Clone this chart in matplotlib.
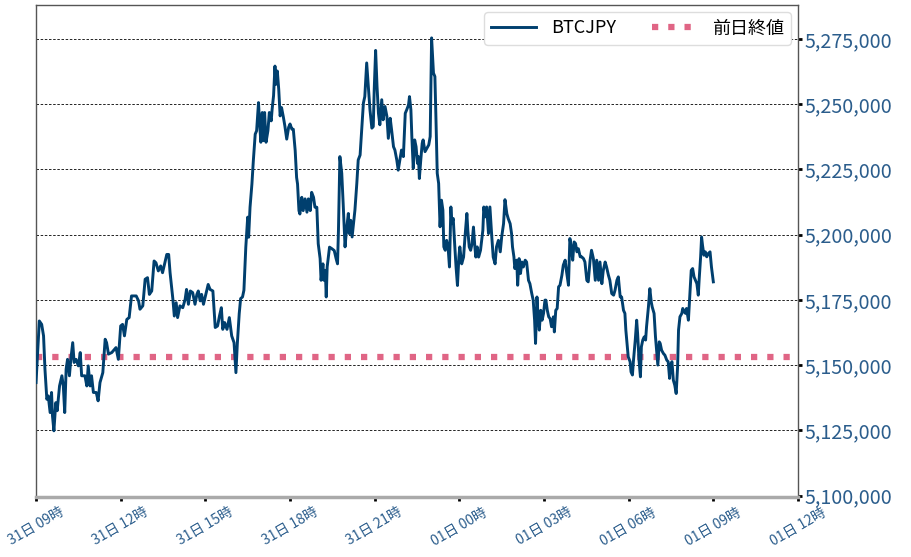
import matplotlib
matplotlib.use("Agg")
import matplotlib.pyplot as plt
import matplotlib.dates as mdates
import matplotlib.ticker as mticker
import numpy as np
import pandas as pd

plt.rcParams['font.family'] = ['Noto Sans CJK JP', 'DejaVu Sans']

# minutes after 31日 09:00, and BTCJPY price
minutes = [
    0, 7, 12, 16, 19, 23, 26, 30, 33, 35, 38, 42, 45, 50, 55, 58, 61, 64, 67, 71,
    74, 78, 81, 85, 90, 94, 97, 104, 108, 111, 115, 118, 122, 128, 132, 136, 142, 147, 150, 154,
    161, 170, 175, 180, 184, 188, 193, 198, 203, 213, 218, 221, 227, 232, 237, 241, 246, 251, 255, 260,
    265, 269, 274, 278, 282, 285, 291, 294, 298, 301, 306, 312, 317, 320, 324, 328, 333, 338, 342, 345,
    349, 352, 356, 362, 366, 370, 376, 381, 386, 390, 394, 397, 401, 406, 411, 416, 421, 425,
    428, 432, 435, 439, 442, 446, 450, 452, 455, 459, 462, 466, 469, 473, 475, 478, 481, 483,
    486, 489, 493, 496, 500, 502, 505, 508, 510, 513, 516, 519, 522, 526, 529, 533, 537, 540,
    544, 547, 551, 554, 556, 559, 561, 565, 568, 572, 576, 579, 583, 586, 590, 593, 597, 600,
    604, 606, 610, 612, 615, 617, 619, 624, 629, 634, 638, 641,
    643, 646, 650, 653, 657, 660, 664, 666, 669, 672, 675, 678, 682, 685, 689, 692, 696, 699,
    703, 707, 710, 714, 717, 719, 722, 725, 728, 731, 735, 738, 742, 746, 749, 753, 756, 760,
    763, 767, 770, 774, 777, 781, 785, 788, 792, 794, 797, 799, 802, 805, 808, 811, 813, 815,
    818, 821, 823, 827, 831, 835, 838, 841, 845, 848, 850, 853, 856, 859, 862, 865, 867, 870,
    873, 876, 879, 882, 884, 887, 890, 893, 896, 899, 901, 905, 909, 912, 916, 918, 921, 924,
    927, 930, 933, 935, 938, 941, 945, 950, 952, 955, 958, 962, 965, 969, 972, 976, 979, 983,
    987, 990, 994, 997,
    1001, 1004, 1008, 1011, 1013, 1016, 1018, 1022, 1024, 1027, 1030, 1033, 1036, 1040, 1043, 1047,
    1050, 1054, 1057, 1060, 1062, 1065, 1067, 1070, 1073, 1076, 1079, 1082, 1084, 1087, 1090, 1093,
    1096, 1100, 1102, 1105, 1108, 1111, 1114, 1118, 1121, 1125, 1128, 1132, 1135, 1138, 1141, 1144,
    1147, 1150, 1153, 1157, 1160, 1164, 1167, 1171, 1174, 1178, 1181, 1185, 1189, 1192, 1196, 1199,
    1203, 1206, 1210, 1213, 1217, 1220, 1224, 1228, 1231, 1235, 1238, 1242, 1245, 1249, 1252, 1254,
    1257, 1259, 1263, 1265, 1268, 1270, 1274, 1277, 1279, 1282, 1285, 1287, 1290, 1293, 1296, 1298,
    1302, 1305, 1308, 1310, 1314, 1317, 1320, 1322, 1325, 1327, 1330, 1334, 1337, 1341, 1344, 1347,
    1349, 1352, 1355, 1358, 1361, 1364, 1366, 1369, 1373, 1375, 1378, 1381, 1383, 1387, 1391, 1393,
    1396, 1399, 1402, 1405, 1408, 1410, 1413, 1415, 1417, 1420, 1423, 1426, 1429, 1433, 1436, 1440,
]
price = [
    5143300, 5166900, 5165600, 5161200, 5148400, 5136900, 5138200, 5131800, 5139500, 5130500,
    5124800, 5135600, 5132500, 5142000, 5145900, 5142000, 5131800, 5148400, 5152200, 5145900,
    5152200, 5158600, 5151000, 5152200, 5149700, 5154800, 5145900, 5145900, 5142000, 5149700,
    5142000, 5145900, 5139500, 5139500, 5136300, 5143300, 5147100, 5159900, 5158600, 5154200,
    5154800, 5156700, 5152200, 5165000, 5165600, 5161200, 5167500, 5168200, 5176500, 5176500,
    5174600, 5171400, 5172700, 5182900, 5183500, 5177100, 5178400, 5189900, 5189200, 5186100,
    5188000, 5185400, 5189200, 5192400, 5192400, 5185400, 5175200, 5168800, 5173900, 5168200,
    5172700, 5172000, 5175200, 5179000, 5173300, 5178400, 5177800, 5173300, 5177100, 5178400,
    5174600, 5177100, 5173300, 5177800, 5180900, 5179000, 5178400, 5164400, 5165000, 5168800,
    5172000, 5163700, 5166300, 5163700, 5168200, 5161200, 5158600, 5147100,
    5158300, 5169700, 5175500, 5176100, 5178700, 5195200, 5206700, 5199000, 5210500, 5219400,
    5228300, 5238500, 5239800, 5250600, 5243600, 5235400, 5246800, 5236000,
    5246800, 5235400, 5239800, 5246800, 5243600, 5248100, 5253200, 5264600, 5257600, 5262700,
    5255700, 5245500, 5248700, 5244900, 5241700, 5236600, 5241100, 5242400,
    5240400, 5240400, 5232200, 5221900, 5219400, 5209200, 5207900, 5214300, 5209200, 5213700,
    5208600, 5213700, 5209200, 5216200, 5214300, 5210500, 5210500, 5196500,
    5190800, 5182500, 5188800, 5182500, 5186300, 5176100, 5187600, 5195200, 5194600, 5193900,
    5190800, 5188800,
    5201700, 5229900, 5223500, 5211900, 5195300, 5201700, 5208100, 5200400, 5205500, 5199100,
    5204200, 5209400, 5219600, 5228600, 5230500, 5238900, 5250400, 5252900,
    5265800, 5255500, 5247800, 5240800, 5241400, 5255500, 5270600, 5256800, 5246500, 5242100,
    5251700, 5244000, 5249100, 5245300, 5236900, 5244600, 5240100, 5233700,
    5232400, 5228600, 5224700, 5229200, 5232400, 5229900, 5246500, 5247800, 5249700, 5252900,
    5247800, 5237600, 5225400, 5236300, 5233700, 5227300, 5229900, 5221500,
    5228600, 5235000, 5236300, 5231800, 5233100, 5234400, 5237600, 5275400, 5261900, 5260600,
    5246500, 5223500, 5219600, 5203000, 5213200, 5209400, 5195300, 5194000,
    5197800, 5195300, 5187600, 5210600, 5204200, 5206200, 5196500, 5187600, 5180500, 5191400,
    5195300, 5188800, 5191400, 5199100, 5208100, 5201700, 5195300, 5194000,
    5196500, 5202900, 5195300, 5191400, 5195300, 5191400, 5194000, 5201700, 5210600, 5206800,
    5210600, 5200400, 5210600, 5199100, 5191400, 5188800, 5195300, 5197800,
    5193400, 5199100, 5204200, 5213400,
    5208000, 5206100, 5204200, 5200400, 5195300, 5191500, 5187000, 5190200, 5180600, 5190800,
    5185100, 5189500, 5187600, 5190200, 5189500, 5182500,
    5181200, 5177400, 5174900, 5167200, 5158300, 5176100, 5169800, 5163400, 5171000, 5167200,
    5169800, 5174900, 5174900, 5171000, 5168500, 5167800,
    5164700, 5168500, 5162700, 5171000, 5171700, 5180000, 5180600, 5184400, 5188300, 5190200,
    5185700, 5180600, 5198500, 5195300, 5190200, 5197200,
    5196600, 5193400, 5194600, 5191500, 5191500, 5190800, 5189500, 5182500, 5181900, 5190200,
    5194000, 5190800, 5182500, 5190200, 5182500, 5189500,
    5181200, 5186300, 5189500, 5187600, 5184400, 5182500, 5177400, 5176800, 5178700, 5182500,
    5183800, 5176100, 5176100, 5171000, 5169800, 5163400,
    5157000, 5153200, 5151300, 5147400, 5146200, 5151300, 5159600, 5167200, 5162100, 5151900,
    5145500, 5157000, 5159600, 5160800, 5159600, 5164700,
    5172300, 5179300, 5174200, 5172300, 5169800, 5160800, 5154400, 5150000, 5158900, 5158300,
    5155700, 5154400, 5153800, 5151900, 5151300, 5144900,
    5150000, 5151300, 5144200, 5142300, 5139100, 5149300, 5163400, 5168500, 5169800, 5171700,
    5170400, 5169800, 5171700, 5167200, 5180000, 5186300,
    5187000, 5183800, 5182500, 5181200, 5176800, 5183200, 5191500, 5199100, 5195900, 5192100,
    5193400, 5191500, 5192700, 5193400, 5187600, 5181900,
]
prev_close = 5153000

start = pd.Timestamp("2021-12-31 09:00")
times = start + pd.to_timedelta(minutes, unit="min")

fig = plt.figure(figsize=(9.12, 5.57), dpi=100)
ax = fig.add_axes([0.0395, 0.108, 0.8355, 0.883])

ax.plot(times, price, color="#003f6e", linewidth=2.1, label="BTCJPY", zorder=3)
ax.axhline(prev_close, color="#e06585", linewidth=4.5, linestyle=(0, (1, 1.6)),
           label="前日終値", zorder=2)

ax.set_xlim(start, start + pd.Timedelta(hours=27))
ax.set_ylim(5099500, 5288000)

ax.yaxis.tick_right()
ax.yaxis.set_major_locator(mticker.MultipleLocator(25000))
ax.yaxis.set_major_formatter(mticker.FuncFormatter(lambda v, p: f"{int(v):,}"))
ax.grid(axis="y", color="black", linestyle=(0, (3, 2)), linewidth=0.6)

ax.xaxis.set_major_locator(mdates.HourLocator(byhour=range(0, 24, 3)))
ax.xaxis.set_major_formatter(mdates.DateFormatter("%d日 %H時"))

ax.tick_params(axis="y", colors="black", labelcolor="#2b5d8c", labelsize=14.2,
               length=3, width=2, pad=2)
ax.tick_params(axis="x", colors="black", labelcolor="#2b5d8c", labelsize=10,
               length=3, width=2, pad=3)
for lab in ax.get_xticklabels():
    lab.set_rotation(30)
    lab.set_ha("center")

for s in ["left", "top", "right"]:
    ax.spines[s].set_color("#555555")
    ax.spines[s].set_linewidth(1.0)
ax.spines["bottom"].set_color("#aaaaaa")
ax.spines["bottom"].set_linewidth(2.5)

ax.legend(loc="upper right", ncol=2, fontsize=13, frameon=True, framealpha=1,
          edgecolor="#dddddd", handlelength=2.5, columnspacing=2.0,
          borderaxespad=0.4)

fig.savefig("out.png", dpi=100)
